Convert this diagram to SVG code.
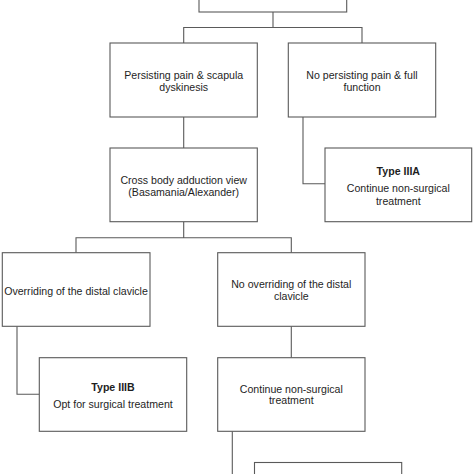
<svg xmlns="http://www.w3.org/2000/svg" width="474" height="474" viewBox="0 0 474 474">
<style>
.box{fill:#ffffff;stroke:#5a5a5a;stroke-width:1.1}
.conn{fill:none;stroke:#5a5a5a;stroke-width:1.1}
text{font-family:"Liberation Sans",Arial,sans-serif;font-size:10.6px;fill:#1e1e1e;text-anchor:middle}
.b{font-weight:bold}
</style>
<rect width="474" height="474" fill="#ffffff"/>
<g id="connectors">
<path class="conn" d="M273,12 V27.5 M183.7,43 V27.5 H362 V43"/>
<path class="conn" d="M183.7,117 V148"/>
<path class="conn" d="M303,117 V183.7 H325"/>
<path class="conn" d="M183.7,221.7 V237.7 M76,252.7 V237.7 H291.3 V252.7"/>
<path class="conn" d="M17,326.3 V394.3 H39.3"/>
<path class="conn" d="M291.3,326.3 V357.7"/>
<path class="conn" d="M232.3,431.3 V480"/>
</g>
<g id="node-top">
<rect class="box" x="199" y="-10" width="147.7" height="22"/>
</g>
<g id="node-persisting">
<rect class="box" x="110" y="43" width="147.3" height="74"/>
<text x="183.7" y="78.5">Persisting pain &amp; scapula</text>
<text x="183.7" y="90.5">dyskinesis</text>
</g>
<g id="node-no-persisting">
<rect class="box" x="288.3" y="43" width="147.4" height="74"/>
<text x="362" y="78.5">No persisting pain &amp; full</text>
<text x="362" y="90.5">function</text>
</g>
<g id="node-cross-body">
<rect class="box" x="110" y="148" width="147.3" height="73.7"/>
<text x="183.7" y="183.8">Cross body adduction view</text>
<text x="183.7" y="196">(Basamania/Alexander)</text>
</g>
<g id="node-type-iiia">
<rect class="box" x="325" y="148" width="146.7" height="73.7"/>
<text class="b" x="398.3" y="174.8">Type IIIA</text>
<text x="398.3" y="192">Continue non-surgical</text>
<text x="398.3" y="204.7">treatment</text>
</g>
<g id="node-overriding">
<rect class="box" x="2.3" y="252.7" width="147.7" height="73.6"/>
<text x="76" y="294.5">Overriding of the distal clavicle</text>
</g>
<g id="node-no-overriding">
<rect class="box" x="217.7" y="252.7" width="147.3" height="73.6"/>
<text x="291.3" y="288">No overriding of the distal</text>
<text x="291.3" y="300">clavicle</text>
</g>
<g id="node-type-iiib">
<rect class="box" x="39.3" y="357.7" width="147.4" height="73.6"/>
<text class="b" x="113" y="390.8">Type IIIB</text>
<text x="113" y="407.5">Opt for surgical treatment</text>
</g>
<g id="node-continue">
<rect class="box" x="217.7" y="357.7" width="147.3" height="73.6"/>
<text x="291.3" y="393">Continue non-surgical</text>
<text x="291.3" y="404">treatment</text>
</g>
<g id="node-bottom">
<rect class="box" x="254.5" y="462.5" width="147.2" height="30"/>
</g>
</svg>
